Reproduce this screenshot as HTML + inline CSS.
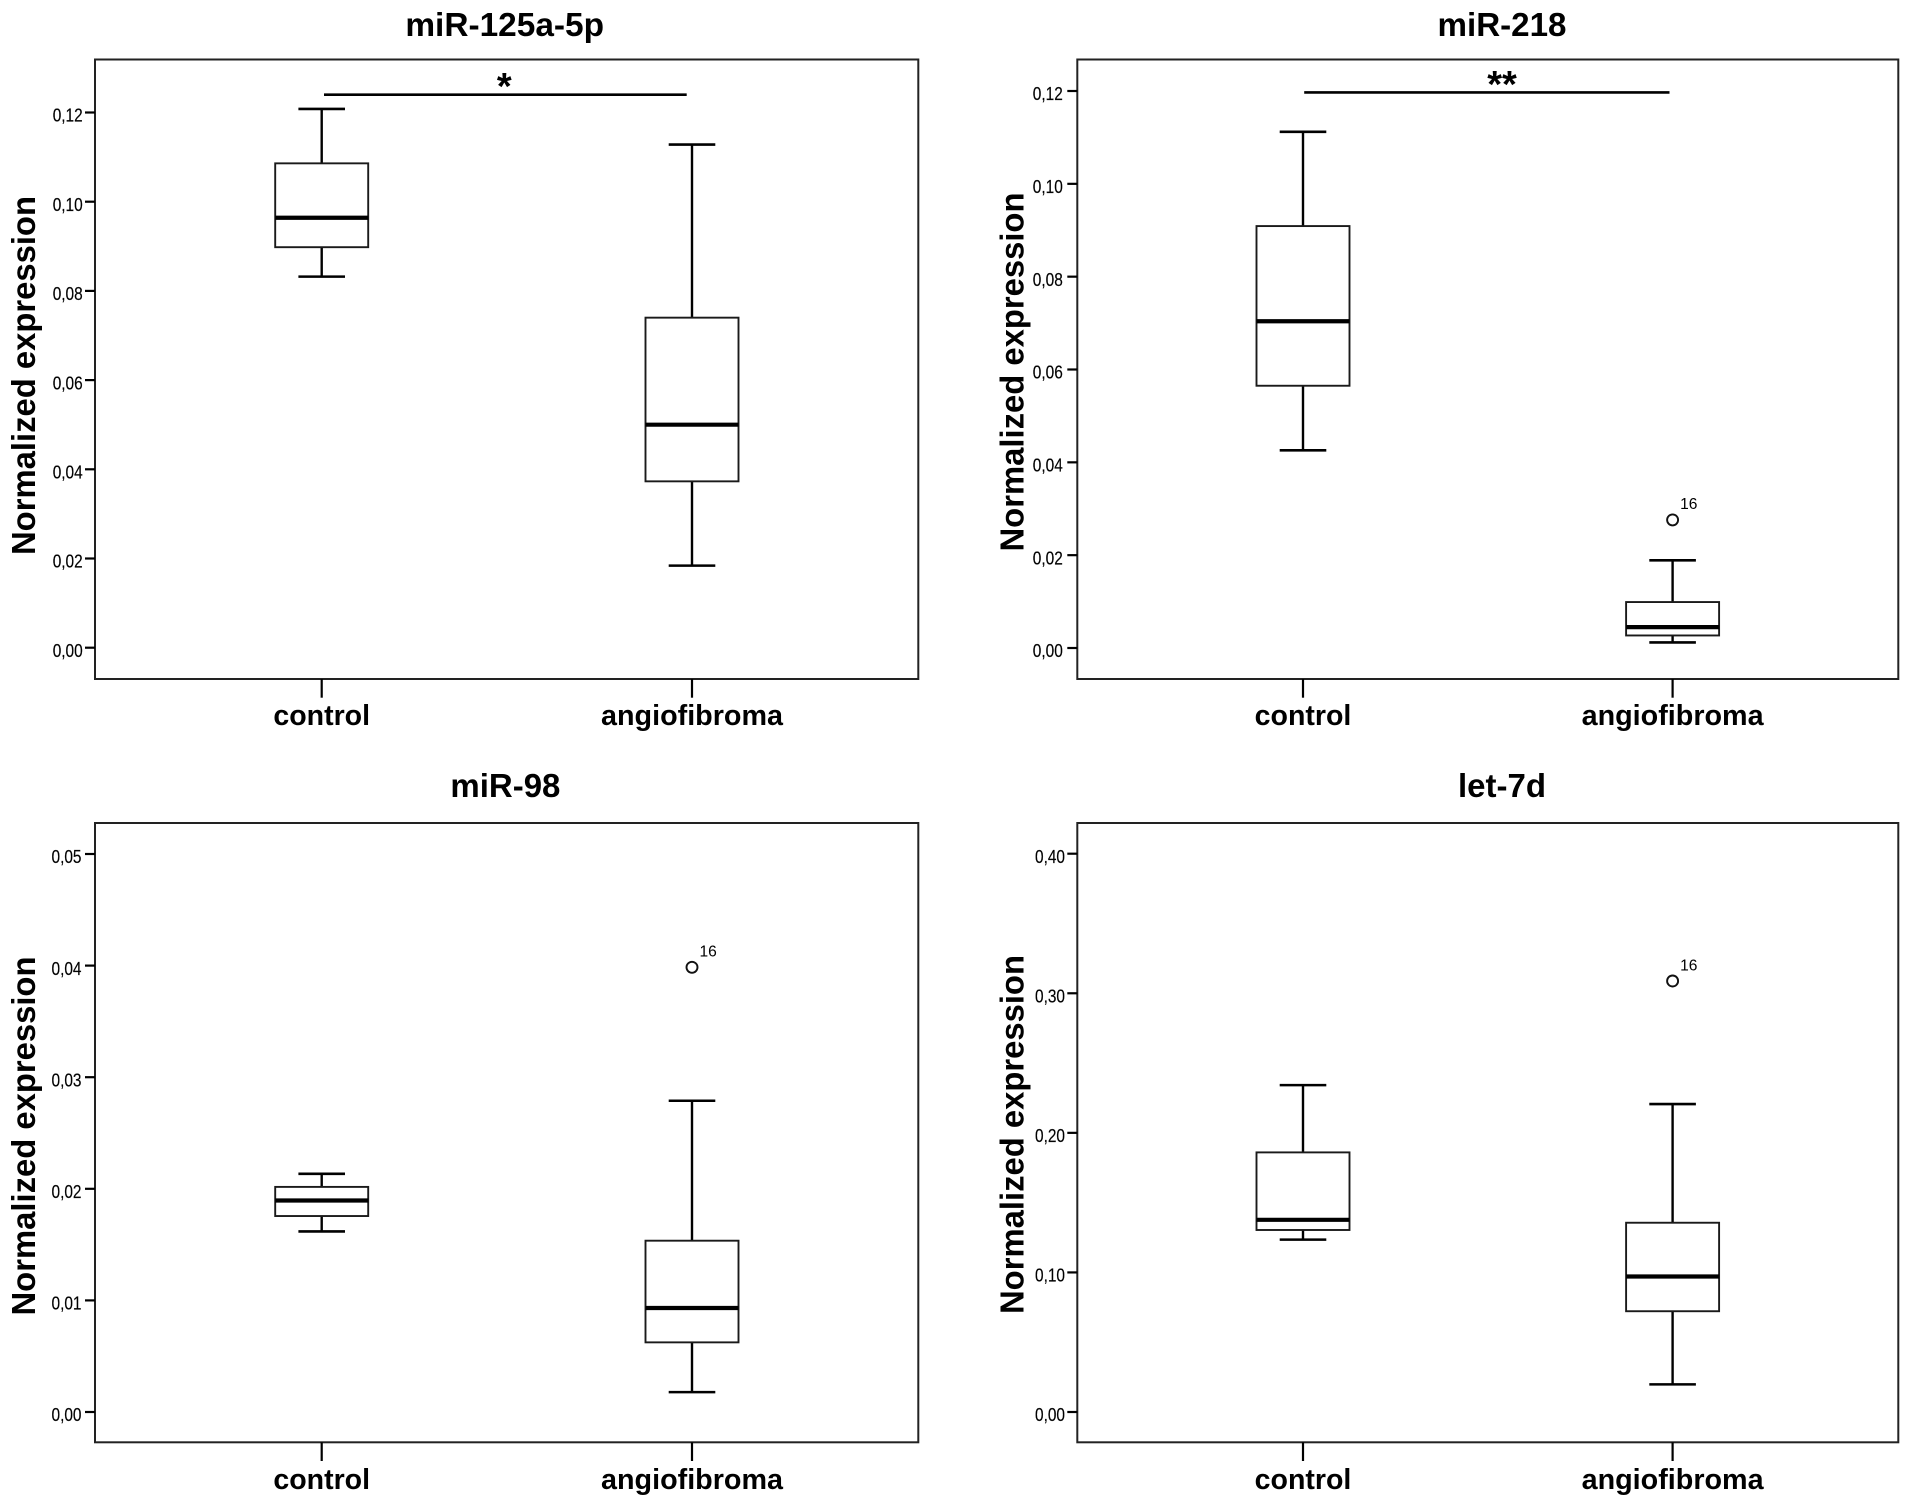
<!DOCTYPE html>
<html lang="en">
<head>
<meta charset="utf-8">
<title>Normalized expression box plots</title>
<style>
html,body{margin:0;padding:0;background:#fff;width:1913px;height:1508px;overflow:hidden}
svg{display:block;filter:blur(0.35px)}
text{font-family:"Liberation Sans",sans-serif;fill:#000}
</style>
</head>
<body>
<svg id="figure" xmlns="http://www.w3.org/2000/svg" width="1913" height="1508" viewBox="0 0 1913 1508"></svg>
<script>
const categories = ['control', 'angiofibroma'];

const miR125Title = 'miR-125a-5p';
const miR125Ticks = [0, 0.02, 0.04, 0.06, 0.08, 0.10, 0.12];
const miR125TickLabels = ['0,00', '0,02', '0,04', '0,06', '0,08', '0,10', '0,12'];
const miR125Control = [0.0832, 0.0898, 0.0964, 0.1086, 0.1208];
const miR125Angio = [0.0184, 0.0373, 0.0500, 0.0740, 0.1128];
const miR125Outliers = [null, null];
const miR125Significance = 0.1240;

const miR218Title = 'miR-218';
const miR218Ticks = [0, 0.02, 0.04, 0.06, 0.08, 0.10, 0.12];
const miR218TickLabels = ['0,00', '0,02', '0,04', '0,06', '0,08', '0,10', '0,12'];
const miR218Control = [0.0426, 0.0565, 0.0704, 0.0909, 0.1112];
const miR218Angio = [0.0012, 0.0027, 0.0045, 0.0099, 0.0189];
const miR218Outliers = [null, 0.0276];
const miR218Significance = 0.1197;

const miR98Title = 'miR-98';
const miR98Ticks = [0, 0.01, 0.02, 0.03, 0.04, 0.05];
const miR98TickLabels = ['0,00', '0,01', '0,02', '0,03', '0,04', '0,05'];
const miR98Control = [0.01618, 0.01756, 0.01895, 0.02017, 0.02134];
const miR98Angio = [0.00178, 0.00624, 0.00932, 0.01535, 0.02789];
const miR98Outliers = [null, 0.03985];

const let7dTitle = 'let-7d';
const let7dTicks = [0, 0.10, 0.20, 0.30, 0.40];
const let7dTickLabels = ['0,00', '0,10', '0,20', '0,30', '0,40'];
const let7dControl = [0.1235, 0.1304, 0.1377, 0.1860, 0.2342];
const let7dAngio = [0.0198, 0.0722, 0.0971, 0.1356, 0.2206];
const let7dOutliers = [null, 0.3088];

const panels = [
  { key: 'mir-125a-5p', title: miR125Title, titleW: 198.7, ticks: miR125Ticks, labels: miR125TickLabels,
    series: [miR125Control, miR125Angio], outliers: miR125Outliers, sig: miR125Significance, stars: '*', starX: 504.3,
    left: 95, right: 918.3, top: 59.5, bottom: 679, yZero: 647.7, yTopTick: 112.5, labelGap: 12.3,
    centers: [321.7, 692], sigX: [324, 686.7], titleX: 504.7, titleY: 36, ylabelX: 35, ylabelY: 375.5, xlabelY: 725 },
  { key: 'mir-218', title: miR218Title, titleW: 129, ticks: miR218Ticks, labels: miR218TickLabels,
    series: [miR218Control, miR218Angio], outliers: miR218Outliers, sig: miR218Significance, stars: '**', starX: 1502,
    left: 1077.3, right: 1898.3, top: 59.5, bottom: 679, yZero: 648, yTopTick: 91, labelGap: 14.5,
    centers: [1303, 1672.6], sigX: [1304.2, 1669.5], titleX: 1502, titleY: 36, ylabelX: 1023.5, ylabelY: 372, xlabelY: 725 },
  { key: 'mir-98', title: miR98Title, titleW: 110, ticks: miR98Ticks, labels: miR98TickLabels,
    series: [miR98Control, miR98Angio], outliers: miR98Outliers, sig: null, stars: '', starX: 0,
    left: 95, right: 918.3, top: 823, bottom: 1442.3, yZero: 1412, yTopTick: 854, labelGap: 13.5,
    centers: [321.7, 692], sigX: null, titleX: 505.4, titleY: 797, ylabelX: 35, ylabelY: 1136, xlabelY: 1489 },
  { key: 'let-7d', title: let7dTitle, titleW: 88, ticks: let7dTicks, labels: let7dTickLabels,
    series: [let7dControl, let7dAngio], outliers: let7dOutliers, sig: null, stars: '', starX: 0,
    left: 1077.3, right: 1898.3, top: 823, bottom: 1442.3, yZero: 1412, yTopTick: 853.7, labelGap: 12.3,
    centers: [1303, 1672.6], sigX: null, titleX: 1502, titleY: 797, ylabelX: 1023.5, ylabelY: 1134.5, xlabelY: 1489 }
];

const labelWidths = [96.7, 182];
const svgNS = 'http://www.w3.org/2000/svg';
const figure = document.getElementById('figure');

function make(parent, tag, name, attrs, content) {
  const el = document.createElementNS(svgNS, tag);
  
  
  for (const k in attrs) el.setAttribute(k, attrs[k]);
  if (content !== undefined) el.textContent = content;
  parent.appendChild(el);
  return el;
}

function line(parent, name, x1, y1, x2, y2, w) {
  return make(parent, 'line', name, { x1: x1, y1: y1, x2: x2, y2: y2, stroke: '#000', 'stroke-width': w });
}

panels.forEach(function (p) {
  const g = make(figure, 'g', 'panel-' + p.key, {});
  const maxTick = p.ticks[p.ticks.length - 1];
  const yScale = function (v) { return p.yZero - (v / maxTick) * (p.yZero - p.yTopTick); };

  make(g, 'text', 'chart-title', { x: p.titleX, y: p.titleY, 'text-anchor': 'middle', 'font-size': 33, 'font-weight': 'bold',
    textLength: p.titleW, lengthAdjust: 'spacingAndGlyphs' }, p.title);

  make(g, 'rect', 'plot-frame', { x: p.left, y: p.top, width: p.right - p.left, height: p.bottom - p.top,
    fill: '#fff', stroke: '#222', 'stroke-width': 2 });

  make(g, 'text', 'y-axis-title', { x: 0, y: 0, 'text-anchor': 'middle', 'font-size': 33.5, 'font-weight': 'bold',
    textLength: 359, lengthAdjust: 'spacingAndGlyphs',
    transform: 'translate(' + p.ylabelX + ' ' + p.ylabelY + ') rotate(-90)' }, 'Normalized expression');

  p.ticks.forEach(function (t, i) {
    const y = yScale(t);
    line(g, 'y-tick-' + p.labels[i], p.left - 10, y, p.left, y, 2.2);
    make(g, 'text', 'y-tick-label-' + p.labels[i], { x: p.left - p.labelGap, y: y + 9.2, 'text-anchor': 'end', 'font-size': 18,
      textLength: 30, lengthAdjust: 'spacingAndGlyphs', fill: '#222', stroke: '#222', 'stroke-width': 0.2 }, p.labels[i]);
  });

  categories.forEach(function (c, i) {
    const cx = p.centers[i];
    const s = p.series[i];
    const name = c + '-';
    line(g, 'x-tick-' + c, cx, p.bottom, cx, p.bottom + 18.7, 2.2);
    make(g, 'text', 'x-axis-label-' + c, { x: cx, y: p.xlabelY, 'text-anchor': 'middle', 'font-size': 28.5, 'font-weight': 'bold',
      textLength: labelWidths[i], lengthAdjust: 'spacingAndGlyphs' }, c);

    const bg = make(g, 'g', 'box-' + c, {});
    line(bg, name + 'upper-whisker', cx, yScale(s[4]), cx, yScale(s[3]), 2.4);
    line(bg, name + 'lower-whisker', cx, yScale(s[1]), cx, yScale(s[0]), 2.4);
    line(bg, name + 'upper-cap', cx - 23.3, yScale(s[4]), cx + 23.3, yScale(s[4]), 2.6);
    line(bg, name + 'lower-cap', cx - 23.3, yScale(s[0]), cx + 23.3, yScale(s[0]), 2.6);
    make(bg, 'rect', name + 'iqr-box', { x: cx - 46.5, y: yScale(s[3]), width: 93, height: yScale(s[1]) - yScale(s[3]),
      fill: '#fff', stroke: '#1a1a1a', 'stroke-width': 1.9 });
    line(bg, name + 'median', cx - 46.5, yScale(s[2]), cx + 46.5, yScale(s[2]), 4.2);

    if (p.outliers[i] !== null) {
      const oy = yScale(p.outliers[i]);
      make(bg, 'circle', name + 'outlier', { cx: cx, cy: oy, r: 5.5, fill: '#fff', stroke: '#111', 'stroke-width': 1.9 });
      make(bg, 'text', name + 'outlier-label', { x: cx + 7.5, y: oy - 10.7, 'font-size': 16,
        textLength: 17.3, lengthAdjust: 'spacingAndGlyphs' }, '16');
    }
  });

  if (p.sig !== null) {
    const sy = yScale(p.sig);
    line(g, 'significance-bar', p.sigX[0], sy, p.sigX[1], sy, 2.6);
    make(g, 'text', 'significance-stars', { x: p.starX, y: sy + 4.5,
      'text-anchor': 'middle', 'font-size': 38, 'font-weight': 'bold' }, p.stars);
  }
});
</script>
</body>
</html>
